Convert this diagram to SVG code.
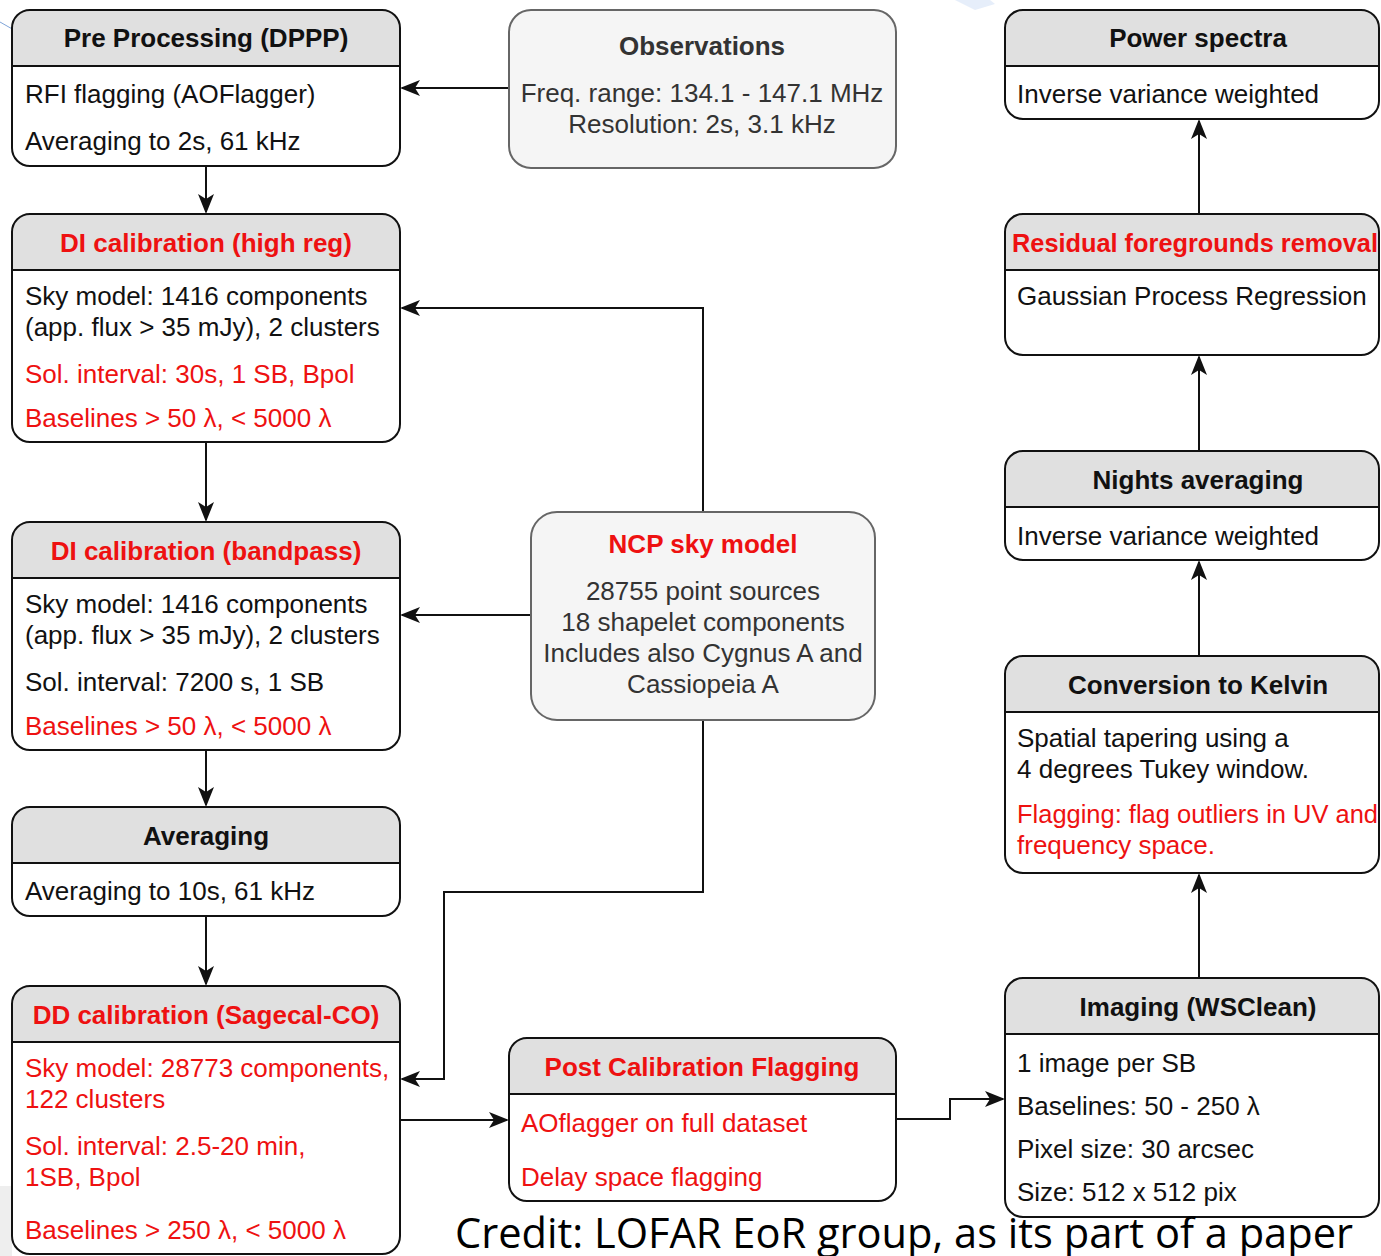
<svg xmlns="http://www.w3.org/2000/svg" width="1381" height="1256" viewBox="0 0 1381 1256">
<style>
text{font-family:"Liberation Sans",Arial,sans-serif;font-size:26px;fill:#111}
.t{font-weight:bold;text-anchor:middle}
.r{fill:#ee1111}
.g{fill:#333}
.c{text-anchor:middle}
.box{fill:none;stroke:#111;stroke-width:2}
.hd{fill:#e0e0e0;stroke:none}
.sep{stroke:#111;stroke-width:2}
.gbox{fill:#f5f5f5;stroke:#666;stroke-width:2}
.ln{fill:none;stroke:#111;stroke-width:2}
.credit{font-family:"Open Sans","Liberation Sans",sans-serif;font-size:42px;fill:#000}
</style>
<defs>
<marker id="ah" viewBox="0 0 20 16" refX="18" refY="8" markerWidth="20" markerHeight="16" markerUnits="userSpaceOnUse" orient="auto">
<path d="M0,0 L20,8 L0,16 L5,8 Z" fill="#111"/>
</marker>
</defs>
<rect x="0" y="0" width="1381" height="1256" fill="#fff"/>
<rect x="0" y="1186" width="12" height="70" fill="#eeeeee"/>
<path d="M0,22 L14,30" stroke="#7fa4d8" stroke-width="1" fill="none"/>
<path d="M955,0 L975,10 L995,4 L990,0 Z" fill="#e6eefa"/>

<g id="connectors">
<path class="ln" d="M509,88 H402" marker-end="url(#ah)"/>
<path class="ln" d="M206,166 V212" marker-end="url(#ah)"/>
<path class="ln" d="M206,442 V520" marker-end="url(#ah)"/>
<path class="ln" d="M206,750 V805" marker-end="url(#ah)"/>
<path class="ln" d="M206,916 V984" marker-end="url(#ah)"/>
<path class="ln" d="M703,512 V308 H402" marker-end="url(#ah)"/>
<path class="ln" d="M531,615 H402" marker-end="url(#ah)"/>
<path class="ln" d="M703,720 V892 H444 V1079 H402" marker-end="url(#ah)"/>
<path class="ln" d="M400,1120 H507" marker-end="url(#ah)"/>
<path class="ln" d="M896,1119 H950 V1099 H1003" marker-end="url(#ah)"/>
<path class="ln" d="M1199,978 V875" marker-end="url(#ah)"/>
<path class="ln" d="M1199,656 V562" marker-end="url(#ah)"/>
<path class="ln" d="M1199,451 V357" marker-end="url(#ah)"/>
<path class="ln" d="M1199,214 V121" marker-end="url(#ah)"/>
</g>

<g id="preprocessing">
<rect x="12" y="10" width="388" height="156" rx="18" fill="#fff"/>
<path class="hd" d="M12,66 V28 A18,18 0 0 1 30,10 H382 A18,18 0 0 1 400,28 V66 Z"/>
<rect class="box" x="12" y="10" width="388" height="156" rx="18"/>
<line class="sep" x1="12" y1="66" x2="400" y2="66"/>
<text class="t" x="206" y="47">Pre Processing (DPPP)</text>
<text x="25" y="103">RFI flagging (AOFlagger)</text>
<text x="25" y="150">Averaging to 2s, 61 kHz</text>
</g>

<g id="observations">
<rect class="gbox" x="509" y="10" width="387" height="158" rx="22"/>
<text class="t g" x="702" y="55">Observations</text>
<text class="c g" x="702" y="102">Freq. range: 134.1 - 147.1 MHz</text>
<text class="c g" x="702" y="133">Resolution: 2s, 3.1 kHz</text>
</g>

<g id="di-highreg">
<rect x="12" y="214" width="388" height="228" rx="18" fill="#fff"/>
<path class="hd" d="M12,270 V232 A18,18 0 0 1 30,214 H382 A18,18 0 0 1 400,232 V270 Z"/>
<rect class="box" x="12" y="214" width="388" height="228" rx="18"/>
<line class="sep" x1="12" y1="270" x2="400" y2="270"/>
<text class="t r" x="206" y="252">DI calibration (high reg)</text>
<text x="25" y="305">Sky model: 1416 components</text>
<text x="25" y="336">(app. flux &gt; 35 mJy), 2 clusters</text>
<text class="r" x="25" y="383">Sol. interval: 30s, 1 SB, Bpol</text>
<text class="r" x="25" y="427">Baselines &gt; 50 λ, &lt; 5000 λ</text>
</g>

<g id="di-bandpass">
<rect x="12" y="522" width="388" height="228" rx="18" fill="#fff"/>
<path class="hd" d="M12,578 V540 A18,18 0 0 1 30,522 H382 A18,18 0 0 1 400,540 V578 Z"/>
<rect class="box" x="12" y="522" width="388" height="228" rx="18"/>
<line class="sep" x1="12" y1="578" x2="400" y2="578"/>
<text class="t r" x="206" y="560">DI calibration (bandpass)</text>
<text x="25" y="613">Sky model: 1416 components</text>
<text x="25" y="644">(app. flux &gt; 35 mJy), 2 clusters</text>
<text x="25" y="691">Sol. interval: 7200 s, 1 SB</text>
<text class="r" x="25" y="735">Baselines &gt; 50 λ, &lt; 5000 λ</text>
</g>

<g id="averaging">
<rect x="12" y="807" width="388" height="109" rx="18" fill="#fff"/>
<path class="hd" d="M12,863 V825 A18,18 0 0 1 30,807 H382 A18,18 0 0 1 400,825 V863 Z"/>
<rect class="box" x="12" y="807" width="388" height="109" rx="18"/>
<line class="sep" x1="12" y1="863" x2="400" y2="863"/>
<text class="t" x="206" y="845">Averaging</text>
<text x="25" y="900">Averaging to 10s, 61 kHz</text>
</g>

<g id="dd-calibration">
<rect x="12" y="986" width="388" height="268" rx="18" fill="#fff"/>
<path class="hd" d="M12,1042 V1004 A18,18 0 0 1 30,986 H382 A18,18 0 0 1 400,1004 V1042 Z"/>
<rect class="box" x="12" y="986" width="388" height="268" rx="18"/>
<line class="sep" x1="12" y1="1042" x2="400" y2="1042"/>
<text class="t r" x="206" y="1024">DD calibration (Sagecal-CO)</text>
<text class="r" x="25" y="1077">Sky model: 28773 components,</text>
<text class="r" x="25" y="1108">122 clusters</text>
<text class="r" x="25" y="1155">Sol. interval: 2.5-20 min,</text>
<text class="r" x="25" y="1186">1SB, Bpol</text>
<text class="r" x="25" y="1239">Baselines &gt; 250 λ, &lt; 5000 λ</text>
</g>

<g id="ncp-sky-model">
<rect class="gbox" x="531" y="512" width="344" height="208" rx="26"/>
<text class="t r" x="703" y="553">NCP sky model</text>
<text class="c g" x="703" y="600">28755 point sources</text>
<text class="c g" x="703" y="631">18 shapelet components</text>
<text class="c g" x="703" y="662">Includes also Cygnus A and</text>
<text class="c g" x="703" y="693">Cassiopeia A</text>
</g>

<g id="post-calibration-flagging">
<rect x="509" y="1038" width="387" height="163" rx="18" fill="#fff"/>
<path class="hd" d="M509,1094 V1056 A18,18 0 0 1 527,1038 H878 A18,18 0 0 1 896,1056 V1094 Z"/>
<rect class="box" x="509" y="1038" width="387" height="163" rx="18"/>
<line class="sep" x1="509" y1="1094" x2="896" y2="1094"/>
<text class="t r" x="702" y="1076">Post Calibration Flagging</text>
<text class="r" x="521" y="1132">AOflagger on full dataset</text>
<text class="r" x="521" y="1186">Delay space flagging</text>
</g>

<g id="power-spectra">
<rect x="1005" y="10" width="374" height="109" rx="18" fill="#fff"/>
<path class="hd" d="M1005,66 V28 A18,18 0 0 1 1023,10 H1361 A18,18 0 0 1 1379,28 V66 Z"/>
<rect class="box" x="1005" y="10" width="374" height="109" rx="18"/>
<line class="sep" x1="1005" y1="66" x2="1379" y2="66"/>
<text class="t" x="1198" y="47">Power spectra</text>
<text x="1017" y="103">Inverse variance weighted</text>
</g>

<g id="residual-foregrounds">
<rect x="1005" y="214" width="374" height="141" rx="18" fill="#fff"/>
<path class="hd" d="M1005,270 V232 A18,18 0 0 1 1023,214 H1361 A18,18 0 0 1 1379,232 V270 Z"/>
<rect class="box" x="1005" y="214" width="374" height="141" rx="18"/>
<line class="sep" x1="1005" y1="270" x2="1379" y2="270"/>
<text class="r" x="1012" y="252" font-weight="bold" textLength="366" lengthAdjust="spacingAndGlyphs">Residual foregrounds removal</text>
<text x="1017" y="305">Gaussian Process Regression</text>
</g>

<g id="nights-averaging">
<rect x="1005" y="451" width="374" height="109" rx="18" fill="#fff"/>
<path class="hd" d="M1005,507 V469 A18,18 0 0 1 1023,451 H1361 A18,18 0 0 1 1379,469 V507 Z"/>
<rect class="box" x="1005" y="451" width="374" height="109" rx="18"/>
<line class="sep" x1="1005" y1="507" x2="1379" y2="507"/>
<text class="t" x="1198" y="489">Nights averaging</text>
<text x="1017" y="545">Inverse variance weighted</text>
</g>

<g id="conversion-kelvin">
<rect x="1005" y="656" width="374" height="217" rx="18" fill="#fff"/>
<path class="hd" d="M1005,712 V674 A18,18 0 0 1 1023,656 H1361 A18,18 0 0 1 1379,674 V712 Z"/>
<rect class="box" x="1005" y="656" width="374" height="217" rx="18"/>
<line class="sep" x1="1005" y1="712" x2="1379" y2="712"/>
<text class="t" x="1198" y="694">Conversion to Kelvin</text>
<text x="1017" y="747">Spatial tapering using a</text>
<text x="1017" y="778">4 degrees Tukey window.</text>
<text class="r" x="1017" y="823" textLength="361" lengthAdjust="spacingAndGlyphs">Flagging: flag outliers in UV and</text>
<text class="r" x="1017" y="854">frequency space.</text>
</g>

<g id="imaging">
<rect x="1005" y="978" width="374" height="239" rx="18" fill="#fff"/>
<path class="hd" d="M1005,1034 V996 A18,18 0 0 1 1023,978 H1361 A18,18 0 0 1 1379,996 V1034 Z"/>
<rect class="box" x="1005" y="978" width="374" height="239" rx="18"/>
<line class="sep" x1="1005" y1="1034" x2="1379" y2="1034"/>
<text class="t" x="1198" y="1016">Imaging (WSClean)</text>
<text x="1017" y="1072">1 image per SB</text>
<text x="1017" y="1115">Baselines: 50 - 250 λ</text>
<text x="1017" y="1158">Pixel size: 30 arcsec</text>
<text x="1017" y="1201">Size: 512 x 512 pix</text>
</g>

<text class="credit" x="455" y="1248" textLength="898" lengthAdjust="spacingAndGlyphs">Credit: LOFAR EoR group, as its part of a paper</text>
</svg>
